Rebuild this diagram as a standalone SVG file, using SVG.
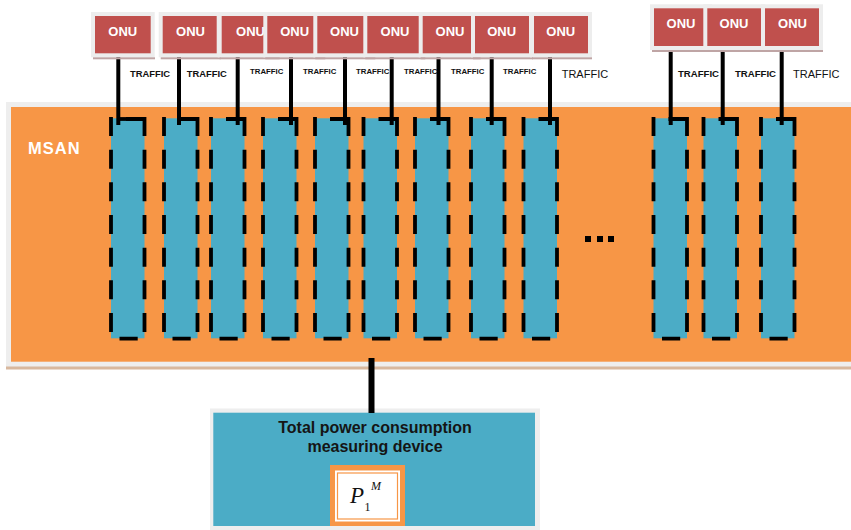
<svg xmlns="http://www.w3.org/2000/svg" xmlns:xlink="http://www.w3.org/1999/xlink" width="851" height="530" viewBox="0 0 851 530">
<style>
.frame{fill:#ededed;}
.shadow{fill:#bfa5a5;}
.box{fill:#C0504D;}
.onu-t{font-family:"Liberation Sans",Arial,sans-serif;font-weight:bold;font-size:13px;fill:#ffffff;text-anchor:middle;}
.tb{font-family:"Liberation Sans",Arial,sans-serif;font-weight:bold;fill:#111111;}
.tr{font-family:"Liberation Sans",Arial,sans-serif;font-size:11px;fill:#111111;}
.colfill{fill:#4BACC6;}
.dash{fill:none;stroke:#000;stroke-width:3.8;stroke-linecap:butt;}
.wire{stroke:#000;stroke-width:4;fill:none;}
.title{font-family:"Liberation Sans",Arial,sans-serif;font-weight:bold;font-size:16px;fill:#151515;text-anchor:middle;}
.math{font-family:"Liberation Serif","Times New Roman",serif;fill:#111;}
</style>
<defs>
<path id="dashes" class="dash" d="M0,0 V19 M0,32.7 V51.7 M0,65.3 V84.3 M0,98 V117 M0,130.7 V149.7 M0,163.3 V182.3 M0,196 V215 M33.5,0 V19 M33.5,32.7 V51.7 M33.5,65.3 V84.3 M33.5,98 V117 M33.5,130.7 V149.7 M33.5,163.3 V182.3 M33.5,196 V215 M15,2 H35.3 M8.5,221.7 H26.7"/>
</defs>

<g id="msan">
<rect x="6" y="102" width="845" height="265" fill="#eeeeee"/>
<rect x="6" y="366.5" width="845" height="3" fill="#d8b89e"/>
<rect x="11" y="107" width="840" height="254.7" fill="#F79646"/>
<text x="28" y="154" font-family="Liberation Sans, Arial, sans-serif" font-weight="bold" font-size="16.5" letter-spacing="1" fill="#ffffff">MSAN</text>
<rect x="585" y="236" width="6" height="6" fill="#000"/>
<rect x="597" y="236" width="6" height="6" fill="#000"/>
<rect x="608" y="236" width="6" height="6" fill="#000"/>
</g>

<g id="col1" transform="translate(111,117)"><rect class="colfill" x="0" y="1.3" width="33.5" height="220"/><use xlink:href="#dashes"/><path class="dash" d="M7,2 H15"/></g>
<g id="col2" transform="translate(164,117)"><rect class="colfill" x="0" y="1.3" width="33.5" height="220"/><use xlink:href="#dashes"/></g>
<g id="col3" transform="translate(211,117)"><rect class="colfill" x="0" y="1.3" width="33.5" height="220"/><use xlink:href="#dashes"/></g>
<g id="col4" transform="translate(263,117)"><rect class="colfill" x="0" y="1.3" width="33.5" height="220"/><use xlink:href="#dashes"/></g>
<g id="col5" transform="translate(315,117)"><rect class="colfill" x="0" y="1.3" width="33.5" height="220"/><use xlink:href="#dashes"/></g>
<g id="col6" transform="translate(363.5,117)"><rect class="colfill" x="0" y="1.3" width="33.5" height="220"/><use xlink:href="#dashes"/></g>
<g id="col7" transform="translate(415,117)"><rect class="colfill" x="0" y="1.3" width="33.5" height="220"/><use xlink:href="#dashes"/></g>
<g id="col8" transform="translate(471,117)"><rect class="colfill" x="0" y="1.3" width="33.5" height="220"/><use xlink:href="#dashes"/></g>
<g id="col9" transform="translate(523.5,117)"><rect class="colfill" x="0" y="1.3" width="33.5" height="220"/><use xlink:href="#dashes"/></g>
<g id="col10" transform="translate(653.5,117)"><rect class="colfill" x="0" y="1.3" width="33.5" height="220"/><use xlink:href="#dashes"/></g>
<g id="col11" transform="translate(703.5,117)"><rect class="colfill" x="0" y="1.3" width="33.5" height="220"/><use xlink:href="#dashes"/></g>
<g id="col12" transform="translate(761,117)"><rect class="colfill" x="0" y="1.3" width="33.5" height="220"/><use xlink:href="#dashes"/></g>

<g id="meter">
<rect x="210" y="408.5" width="330" height="121.5" fill="#eeeeee"/>
<rect x="213.3" y="412.7" width="321.7" height="113.3" fill="#4BACC6"/>
<text class="title" x="375" y="433">Total power consumption</text>
<text class="title" x="375" y="452">measuring device</text>
<rect x="330" y="465" width="75" height="61" fill="#F79646"/>
<rect x="335" y="470.5" width="65" height="51" fill="#ffffff"/>
<rect x="337.5" y="473" width="60" height="46" fill="none" stroke="#F79646" stroke-width="1.2"/>
<text class="math" x="350" y="503" font-size="23" font-style="italic">P</text>
<text class="math" x="371" y="490" font-size="12" font-style="italic">M</text>
<text class="math" x="364.5" y="511" font-size="12">1</text>
</g>

<g id="connectors">
<line class="wire" x1="118.3" y1="55" x2="118.3" y2="125"/>
<line class="wire" x1="179" y1="55" x2="179" y2="125"/>
<line class="wire" x1="237.7" y1="55" x2="237.7" y2="125"/>
<line class="wire" x1="291" y1="55" x2="291" y2="125"/>
<line class="wire" x1="345" y1="55" x2="345" y2="125"/>
<line class="wire" x1="391.7" y1="55" x2="391.7" y2="125"/>
<line class="wire" x1="438.5" y1="55" x2="438.5" y2="125"/>
<line class="wire" x1="491.7" y1="55" x2="491.7" y2="125"/>
<line class="wire" x1="550" y1="55" x2="550" y2="125"/>
<line class="wire" x1="670.7" y1="48" x2="670.7" y2="125"/>
<line class="wire" x1="722.7" y1="48" x2="722.7" y2="125"/>
<line class="wire" x1="781.7" y1="48" x2="781.7" y2="125"/>
<line x1="371.5" y1="358" x2="371.5" y2="413" stroke="#000" stroke-width="6"/>
</g>

<g id="labels">
<text class="tb" x="130" y="76.5" font-size="9.4">TRAFFIC</text>
<text class="tb" x="186.7" y="76.5" font-size="9.4">TRAFFIC</text>
<text class="tb" x="250" y="74" font-size="7.8">TRAFFIC</text>
<text class="tb" x="303" y="74" font-size="7.8">TRAFFIC</text>
<text class="tb" x="356" y="74" font-size="7.8">TRAFFIC</text>
<text class="tb" x="404" y="74" font-size="7.8">TRAFFIC</text>
<text class="tb" x="451" y="74" font-size="7.8">TRAFFIC</text>
<text class="tb" x="503" y="74" font-size="7.8">TRAFFIC</text>
<text class="tr" x="561.7" y="78">TRAFFIC</text>
<text class="tb" x="678" y="76.7" font-size="9.6">TRAFFIC</text>
<text class="tb" x="735" y="76.7" font-size="9.6">TRAFFIC</text>
<text class="tr" x="793" y="78">TRAFFIC</text>
</g>

<g id="onu1"><rect class="frame" x="91" y="12" width="63.7" height="45.3"/><rect class="shadow" x="93" y="57.3" width="62" height="2"/><rect class="box" x="95" y="16" width="55.7" height="37.3"/><text class="onu-t" x="122.8" y="36">ONU</text></g>
<g id="onu2"><rect class="frame" x="158.7" y="12" width="62" height="45.3"/><rect class="shadow" x="160.7" y="57.3" width="60" height="2"/><rect class="box" x="162.7" y="16" width="54" height="37.3"/><text class="onu-t" x="190.5" y="36">ONU</text></g>
<g id="onu3"><rect class="frame" x="217.7" y="12" width="62" height="45.3"/><rect class="shadow" x="219.7" y="57.3" width="60" height="2"/><rect class="box" x="221.7" y="16" width="54" height="37.3"/><text class="onu-t" x="250.5" y="36">ONU</text></g>
<g id="onu4"><rect class="frame" x="263.3" y="12" width="62" height="45.3"/><rect class="shadow" x="265.3" y="57.3" width="60" height="2"/><rect class="box" x="267.3" y="16" width="54" height="37.3"/><text class="onu-t" x="294.7" y="36">ONU</text></g>
<g id="onu5"><rect class="frame" x="313.3" y="12" width="62" height="45.3"/><rect class="shadow" x="315.3" y="57.3" width="60" height="2"/><rect class="box" x="317.3" y="16" width="54" height="37.3"/><text class="onu-t" x="344.5" y="36">ONU</text></g>
<g id="onu6"><rect class="frame" x="363.3" y="12" width="62" height="45.3"/><rect class="shadow" x="365.3" y="57.3" width="60" height="2"/><rect class="box" x="367.3" y="16" width="54" height="37.3"/><text class="onu-t" x="395" y="36">ONU</text></g>
<g id="onu7"><rect class="frame" x="418.7" y="12" width="62" height="45.3"/><rect class="shadow" x="420.7" y="57.3" width="60" height="2"/><rect class="box" x="422.7" y="16" width="54" height="37.3"/><text class="onu-t" x="450" y="36">ONU</text></g>
<g id="onu8"><rect class="frame" x="471" y="12" width="62" height="45.3"/><rect class="shadow" x="473" y="57.3" width="60" height="2"/><rect class="box" x="475" y="16" width="54" height="37.3"/><text class="onu-t" x="501.7" y="36">ONU</text></g>
<g id="onu9"><rect class="frame" x="530" y="12" width="62" height="45.3"/><rect class="shadow" x="532" y="57.3" width="60" height="2"/><rect class="box" x="534" y="16" width="54" height="37.3"/><text class="onu-t" x="560.8" y="36">ONU</text></g>
<g id="onu10"><rect class="frame" x="650" y="4.3" width="62" height="45.7"/><rect class="shadow" x="652" y="50" width="60" height="2"/><rect class="box" x="654" y="8.3" width="54" height="37.7"/><text class="onu-t" x="681" y="28.3">ONU</text></g>
<g id="onu11"><rect class="frame" x="703.3" y="4.3" width="62" height="45.7"/><rect class="shadow" x="705.3" y="50" width="60" height="2"/><rect class="box" x="707.3" y="8.3" width="54" height="37.7"/><text class="onu-t" x="734" y="28.3">ONU</text></g>
<g id="onu12"><rect class="frame" x="761" y="4.3" width="62" height="45.7"/><rect class="shadow" x="763" y="50" width="60" height="2"/><rect class="box" x="765" y="8.3" width="54" height="37.7"/><text class="onu-t" x="792.5" y="28.3">ONU</text></g>
</svg>
